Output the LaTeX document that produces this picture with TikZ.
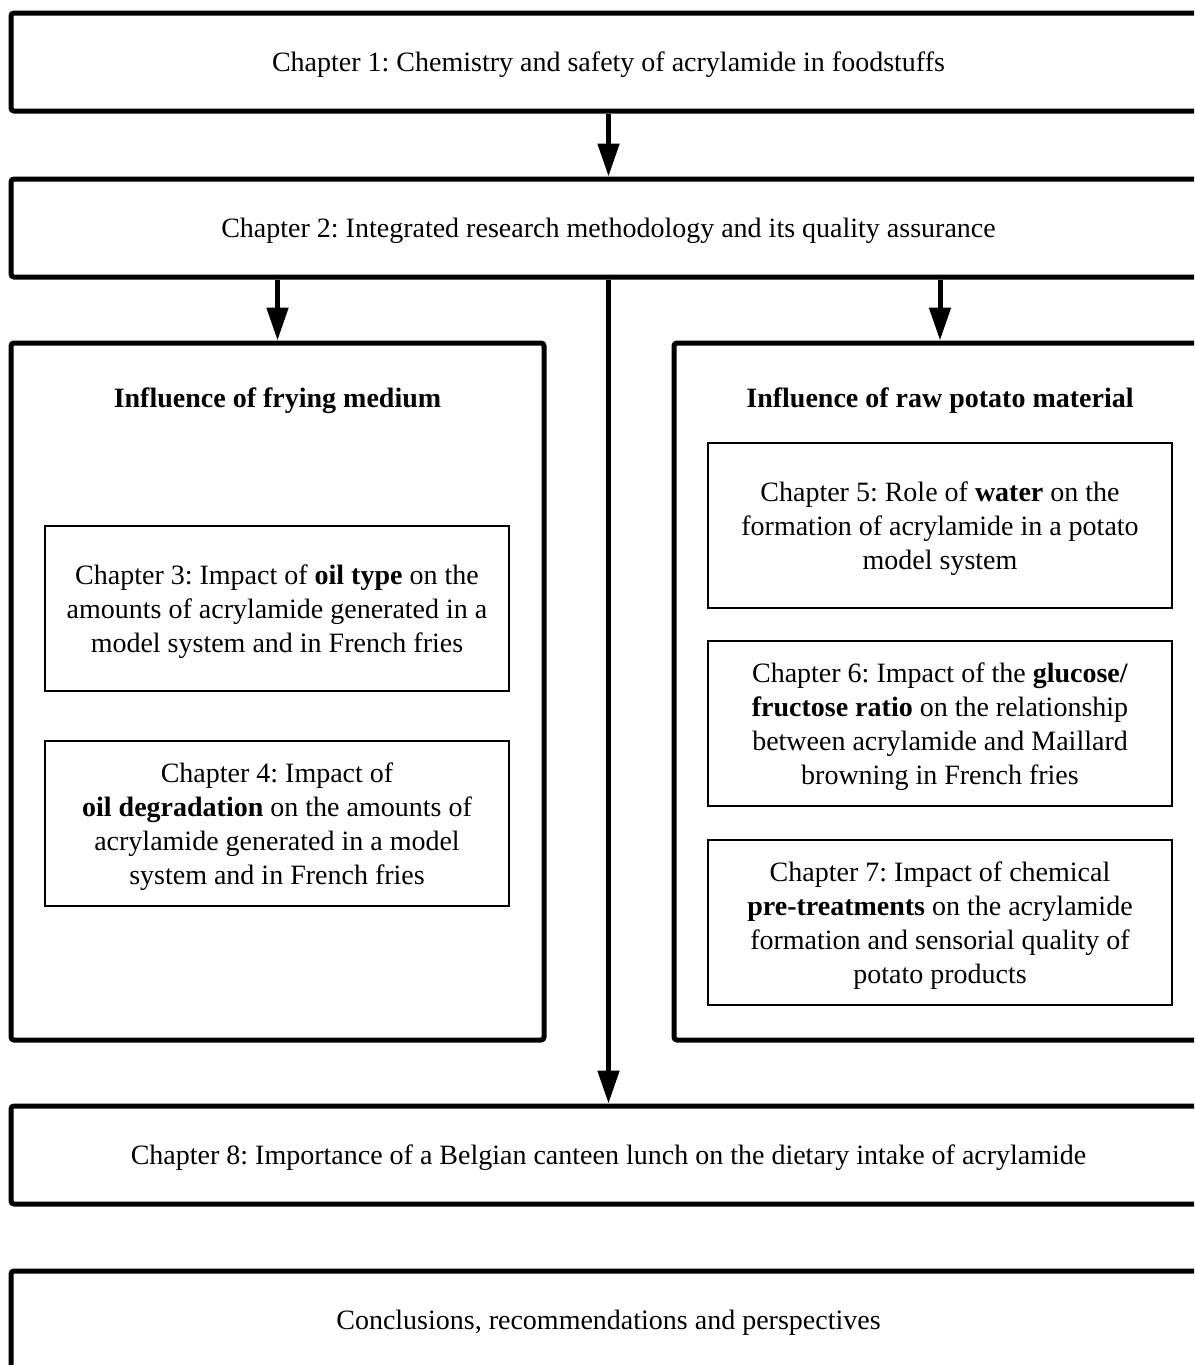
\documentclass[tikz,border=0pt]{standalone}
\usepackage{fontspec}
\setmainfont{Liberation Serif}
\usetikzlibrary{arrows.meta}
\frenchspacing
\newcommand\droptext[1]{\raisebox{-3pt}[\height][\depth]{\begin{tabular}{@{}c@{}}#1\end{tabular}}}
\begin{document}
\begin{tikzpicture}[x=1pt,y=-1pt,
  bigbox/.style={draw, line width=5pt, rounded corners=3pt, minimum height=98pt, inner sep=0pt},
  panel/.style={draw, line width=5pt, rounded corners=3pt, minimum width=533pt, minimum height=697pt, inner sep=0pt},
  innerbox/.style={draw, line width=1.5pt, minimum width=464pt, minimum height=165pt, inner sep=0pt},
  title/.style={inner sep=0pt},
  conn/.style={line width=5pt, -{Triangle[width=21pt,length=33pt]}},
  every node/.style={font=\fontsize{28}{34}\selectfont}
]
\useasboundingbox (0,0) rectangle (1194,1365);
\clip (0,0) rectangle (1194,1365);
\node[bigbox, minimum width=1195pt] (b1) at (608.5,62) {\droptext{Chapter 1: Chemistry and safety of acrylamide in foodstuffs}};
\node[bigbox, minimum width=1195pt] (b2) at (608.5,228) {\droptext{Chapter 2: Integrated research methodology and its quality assurance}};
\node[panel] (lp) at (277.5,691.5) {};
\node[panel, minimum width=532pt] (rp) at (940,691.5) {};
\node[title, font=\fontsize{28}{34}\selectfont\bfseries] (lt) at (277.5,401) {Influence of frying medium};
\node[title, font=\fontsize{28}{34}\selectfont\bfseries] (rt) at (940,401) {Influence of raw potato material};
\node[innerbox] (c3) at (277,608.5) {\droptext{Chapter 3: Impact of \textbf{oil type} on the\\amounts of acrylamide generated in a\\model system and in French fries}};
\node[innerbox] (c4) at (277,823.5) {\droptext{Chapter 4: Impact of\\\textbf{oil degradation} on the amounts of\\acrylamide generated in a model\\system and in French fries}};
\node[innerbox] (c5) at (940,525.5) {\droptext{Chapter 5: Role of \textbf{water} on the\\formation of acrylamide in a potato\\model system}};
\node[innerbox] (c6) at (940,723.5) {\droptext{Chapter 6: Impact of the \textbf{glucose/}\\\textbf{fructose ratio} on the relationship\\between acrylamide and Maillard\\browning in French fries}};
\node[innerbox] (c7) at (940,922.5) {\droptext{Chapter 7: Impact of chemical\\\textbf{pre-treatments} on the acrylamide\\formation and sensorial quality of\\potato products}};
\node[bigbox, minimum width=1195pt] (b8) at (608.5,1155) {\droptext{Chapter 8: Importance of a Belgian canteen lunch on the dietary intake of acrylamide}};
\node[bigbox, minimum width=1195pt] (b9) at (608.5,1320) {\droptext{Conclusions, recommendations and perspectives}};
\draw[conn] (b1) -- (b2);
\draw[conn] (b2.south -| lp.north) -- (lp.north);
\draw[conn] (b2.south -| rp.north) -- (rp.north);
\draw[conn] (b2) -- (b8);
\end{tikzpicture}
\end{document}
